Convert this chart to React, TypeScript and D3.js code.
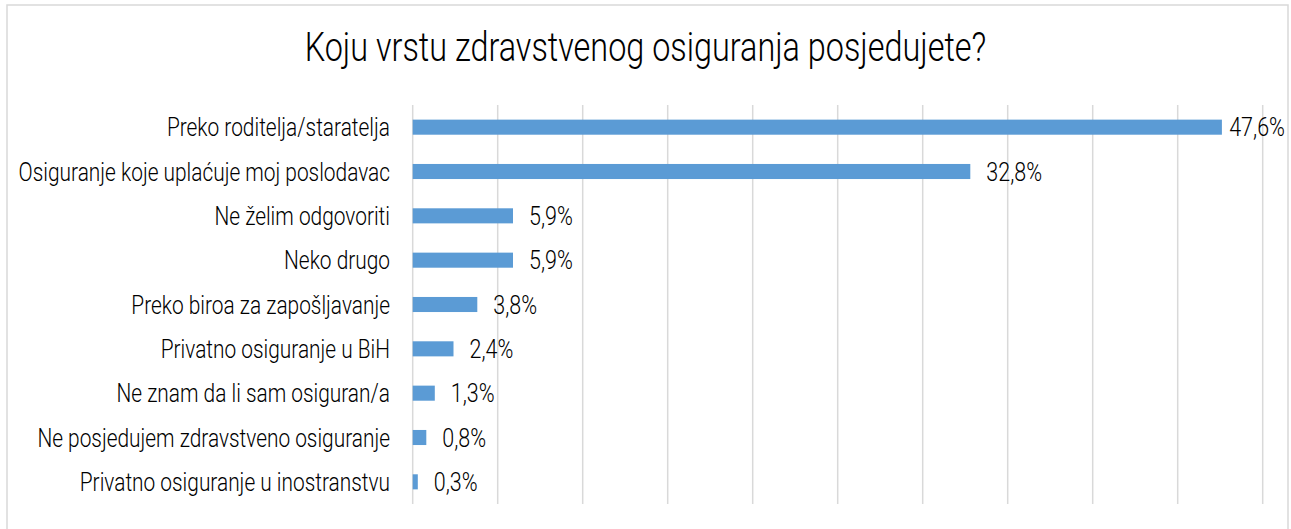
import React, { useEffect, useRef } from "react";
import * as d3 from "d3";

const title = "Koju vrstu zdravstvenog osiguranja posjedujete?";
const categories = [
  "Preko roditelja/staratelja",
  "Osiguranje koje uplaćuje moj poslodavac",
  "Ne želim odgovoriti",
  "Neko drugo",
  "Preko biroa za zapošljavanje",
  "Privatno osiguranje u BiH",
  "Ne znam da li sam osiguran/a",
  "Ne posjedujem zdravstveno osiguranje",
  "Privatno osiguranje u inostranstvu",
];
const values = [47.6, 32.8, 5.9, 5.9, 3.8, 2.4, 1.3, 0.8, 0.3];
const gridTicks = [0, 5, 10, 15, 20, 25, 30, 35, 40, 45, 50];

const W = 1291;
const H = 529;
const FONT = "Roboto, sans-serif";
const SX_LABEL = 0.835;
const SX_VALUE = 0.86;
const SX_TITLE = 0.81;

export default function App() {
  const ref = useRef<SVGSVGElement | null>(null);

  useEffect(() => {
    const svg = d3.select(ref.current);
    svg.selectAll("*").remove();

    const left = 412.7;
    const right = 1262.7;
    const top = 105;
    const bottom = 504;

    const x = d3.scaleLinear().domain([0, 50]).range([left, right]);
    const y = d3
      .scaleBand<string>()
      .domain(categories)
      .range([top, bottom])
      .paddingInner(0.66)
      .paddingOuter(0.33);

    svg.append("rect").attr("width", W).attr("height", H).attr("fill", "#fff");
    svg
      .append("rect")
      .attr("x", 7)
      .attr("y", 5)
      .attr("width", 1281)
      .attr("height", 540)
      .attr("fill", "#fff")
      .attr("stroke", "#d9d9d9")
      .attr("stroke-width", 1.5);

    svg
      .append("text")
      .attr("transform", `translate(645.5,60.5) scale(${SX_TITLE},1)`)
      .attr("text-anchor", "middle")
      .attr("font-family", FONT)
      .attr("font-weight", 300)
      .attr("font-size", 40)
      .attr("fill", "#000")
      .text(title);

    svg
      .append("g")
      .selectAll("line")
      .data(gridTicks)
      .join("line")
      .attr("x1", (d) => x(d))
      .attr("x2", (d) => x(d))
      .attr("y1", top)
      .attr("y2", bottom)
      .attr("stroke", "#d9d9d9")
      .attr("stroke-width", 1.5);

    const rows = categories.map((c, i) => ({ c, v: values[i] }));

    svg
      .append("g")
      .selectAll("rect")
      .data(rows)
      .join("rect")
      .attr("x", x(0))
      .attr("y", (d) => y(d.c)!)
      .attr("width", (d) => x(d.v) - x(0))
      .attr("height", y.bandwidth())
      .attr("fill", "#5b9bd5");

    svg
      .append("g")
      .selectAll("text")
      .data(rows)
      .join("text")
      .attr(
        "transform",
        (d) => `translate(390,${y(d.c)! + y.bandwidth() / 2}) scale(${SX_LABEL},1)`
      )
      .attr("dy", "0.36em")
      .attr("text-anchor", "end")
      .attr("font-family", FONT)
      .attr("font-weight", 300)
      .attr("font-size", 25)
      .attr("fill", "#000")
      .text((d) => d.c);

    const labelLimit = 1285;
    svg
      .append("g")
      .selectAll("text")
      .data(rows)
      .join("text")
      .attr("dy", "0.36em")
      .attr("font-family", FONT)
      .attr("font-weight", 300)
      .attr("font-size", 25)
      .attr("fill", "#000")
      .text((d) => d.v.toFixed(1).replace(".", ",") + "%")
      .each(function (d) {
        const el = this as SVGTextElement;
        const w = el.getComputedTextLength() * SX_VALUE;
        let x0 = x(d.v) + 16;
        if (x0 + w > labelLimit) x0 = Math.max(x(d.v) + 3, labelLimit - w);
        el.setAttribute(
          "transform",
          `translate(${x0},${y(d.c)! + y.bandwidth() / 2}) scale(${SX_VALUE},1)`
        );
      });
  }, []);

  return (
    <svg
      ref={ref}
      width={W}
      height={H}
      style={{ position: "absolute", left: 0, top: 0, display: "block" }}
    />
  );
}
